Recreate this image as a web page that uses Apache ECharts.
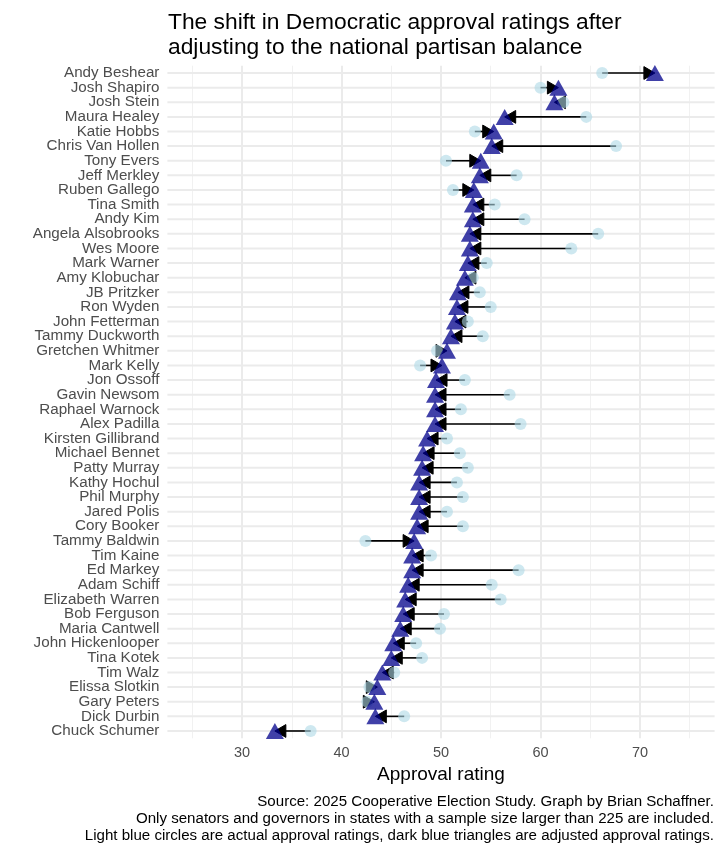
<!DOCTYPE html>
<html>
<head>
<meta charset="utf-8">
<script src="https://cdn.jsdelivr.net/npm/echarts@6/dist/echarts.min.js"></script>
<style>
  html, body { margin: 0; padding: 0; background: #fff; }
  #chart { width: 725px; height: 850px; }
</style>
</head>
<body>
<div id="chart"></div>
<script>
// politicians, top to bottom
var names = ['Andy Beshear', 'Josh Shapiro', 'Josh Stein', 'Maura Healey', 'Katie Hobbs',
  'Chris Van Hollen', 'Tony Evers', 'Jeff Merkley', 'Ruben Gallego', 'Tina Smith',
  'Andy Kim', 'Angela Alsobrooks', 'Wes Moore', 'Mark Warner', 'Amy Klobuchar',
  'JB Pritzker', 'Ron Wyden', 'John Fetterman', 'Tammy Duckworth', 'Gretchen Whitmer',
  'Mark Kelly', 'Jon Ossoff', 'Gavin Newsom', 'Raphael Warnock', 'Alex Padilla',
  'Kirsten Gillibrand', 'Michael Bennet', 'Patty Murray', 'Kathy Hochul', 'Phil Murphy',
  'Jared Polis', 'Cory Booker', 'Tammy Baldwin', 'Tim Kaine', 'Ed Markey',
  'Adam Schiff', 'Elizabeth Warren', 'Bob Ferguson', 'Maria Cantwell', 'John Hickenlooper',
  'Tina Kotek', 'Tim Walz', 'Elissa Slotkin', 'Gary Peters', 'Dick Durbin', 'Chuck Schumer'];

// actual approval (light blue circles)
var actual = [66.2, 60.0, 62.3, 64.6, 53.4,
  67.6, 50.5, 57.6, 51.2, 55.4,
  58.4, 65.8, 63.1, 54.6, 53.2,
  53.9, 55.0, 52.7, 54.2, 49.6,
  47.9, 52.4, 56.9, 52.0, 58.0,
  50.6, 51.9, 52.7, 51.6, 52.2,
  50.6, 52.2, 42.4, 49.0, 57.8,
  55.1, 56.0, 50.3, 49.9, 47.5,
  48.1, 45.3, 42.8, 42.6, 46.3, 36.9];

// adjusted approval (dark blue triangles)
var adjusted = [71.5, 61.8, 61.4, 56.4, 55.3,
  55.1, 54.0, 53.9, 53.3, 53.2,
  53.2, 52.9, 52.9, 52.7, 52.4,
  51.7, 51.6, 51.4, 51.0, 50.6,
  50.1, 49.5, 49.4, 49.4, 49.4,
  48.6, 48.2, 48.1, 47.8, 47.8,
  47.8, 47.6, 47.3, 47.1, 47.1,
  46.7, 46.4, 46.2, 45.9, 45.2,
  45.0, 44.1, 43.6, 43.3, 43.4, 33.3];

var majorTicks = [30, 40, 50, 60, 70];
var minorTicks = [25, 35, 45, 55, 65, 75];

var font = 'Liberation Sans, Arial, Helvetica, sans-serif';

var arrowData = names.map(function (n, i) { return [actual[i], adjusted[i], i]; });
var circleData = names.map(function (n, i) { return [actual[i], i]; });
var triData = names.map(function (n, i) { return [adjusted[i], i]; });

var myChart = echarts.init(document.getElementById('chart'));

var option = {
  animation: false,
  backgroundColor: '#fff',
  title: {
    text: 'The shift in Democratic approval ratings after\nadjusting to the national partisan balance',
    left: 163,
    top: 5,
    textStyle: { fontFamily: font, fontSize: 22.8, fontWeight: 'normal', color: '#000', lineHeight: 25 }
  },
  graphic: [{
    type: 'text',
    x: 714,
    y: 793,
    style: {
      text: 'Source: 2025 Cooperative Election Study. Graph by Brian Schaffner.\n' +
        'Only senators and governors in states with a sample size larger than 225 are included.\n' +
        'Light blue circles are actual approval ratings, dark blue triangles are adjusted approval ratings.',
      align: 'right',
      verticalAlign: 'top',
      fontFamily: font,
      fontSize: 15.1,
      lineHeight: 17,
      fill: '#000'
    }
  }],
  grid: { left: 167.4, right: 10.4, top: 65.7, bottom: 111.7 },
  xAxis: [{
    type: 'value',
    min: 22.5,
    max: 77.5,
    name: 'Approval rating',
    nameLocation: 'middle',
    nameGap: 25,
    nameTextStyle: { fontFamily: font, fontSize: 19, color: '#000' },
    axisLine: { show: false },
    axisTick: { show: false, customValues: majorTicks },
    axisLabel: { customValues: majorTicks, fontFamily: font, fontSize: 14.5, color: '#4d4d4d', margin: 7 },
    splitLine: { show: true, lineStyle: { color: '#ebebeb', width: 2 } }
  }, {
    type: 'value',
    min: 22.5,
    max: 77.5,
    position: 'bottom',
    axisLine: { show: false },
    axisTick: { show: false, customValues: minorTicks },
    axisLabel: { show: false, customValues: minorTicks },
    splitLine: { show: true, lineStyle: { color: '#f1f1f1', width: 1 } }
  }],
  yAxis: {
    type: 'category',
    data: names,
    inverse: true,
    axisLine: { show: false },
    axisTick: { show: false },
    splitLine: { show: false },
    axisLabel: { interval: 0, fontFamily: font, fontSize: 15.2, color: '#4d4d4d', margin: 8 }
  },
  series: [{
    // horizontal gridlines at each row
    type: 'custom',
    z: 1,
    silent: true,
    data: arrowData,
    renderItem: function (params, api) {
      var p = api.coord([api.value(0), api.value(2)]);
      var cs = params.coordSys;
      return {
        type: 'line',
        shape: { x1: cs.x, y1: p[1], x2: cs.x + cs.width, y2: p[1] },
        style: { stroke: '#ebebeb', lineWidth: 2 }
      };
    }
  }, {
    // arrows from actual to adjusted
    type: 'custom',
    z: 2,
    silent: true,
    data: arrowData,
    renderItem: function (params, api) {
      var y = api.value(2);
      var a = api.coord([api.value(0), y]);
      var b = api.coord([api.value(1), y]);
      var d = b[0] >= a[0] ? 1 : -1;
      var len = 11, hw = 6.4;
      return {
        type: 'group',
        children: [{
          type: 'line',
          shape: { x1: a[0], y1: a[1], x2: b[0] - d * len * 0.5, y2: b[1] },
          style: { stroke: '#000', lineWidth: 1.6 }
        }, {
          type: 'polygon',
          shape: { points: [[b[0], b[1]], [b[0] - d * len, b[1] - hw], [b[0] - d * len, b[1] + hw]] },
          style: { fill: '#000', stroke: '#000', lineWidth: 1 }
        }]
      };
    }
  }, {
    name: 'Actual',
    type: 'scatter',
    z: 3,
    data: circleData,
    symbol: 'circle',
    symbolSize: 12,
    itemStyle: { color: 'rgba(173,216,230,0.6)', opacity: 1 }
  }, {
    name: 'Adjusted',
    type: 'scatter',
    z: 4,
    data: triData,
    symbol: 'triangle',
    symbolSize: [18, 16],
    itemStyle: { color: 'rgba(0,0,139,0.75)', opacity: 1 }
  }]
};
myChart.setOption(option);
</script>
</body>
</html>
